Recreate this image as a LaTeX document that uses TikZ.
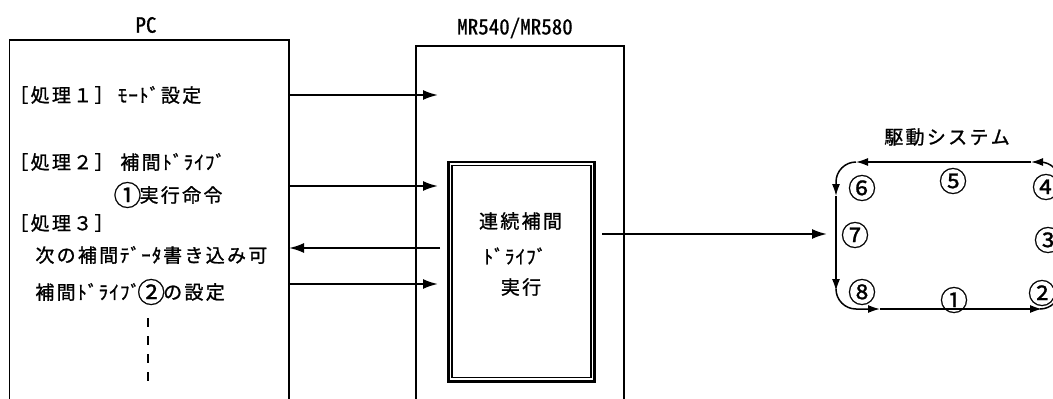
\documentclass[tikz,border=0pt]{standalone}
\usepackage{fontspec}
\setmainfont{Noto Sans CJK JP}
\newfontfamily\jpf[FakeBold=1.2]{Noto Sans CJK JP}
\newfontfamily\hwf[CharacterWidth=Half,FakeBold=0.8]{Noto Sans CJK JP}
\newfontfamily\numf[FakeBold=0.8]{Noto Sans CJK JP}
\usetikzlibrary{arrows.meta}
% monospaced cells in the manner of a Japanese gothic font
\newcommand\monoch[1]{\setbox0\hbox{#1}\ifdim\wd0<14pt\makebox[10.65pt][c]{#1}\else\makebox[21.3pt][c]{#1}\fi}
\def\monoend{\monoend}
\def\monoloop#1{\ifx#1\monoend\else\monoch{#1}\expandafter\monoloop\fi}
\newcommand\mono[1]{\monoloop#1\monoend}
\tikzset{
  box/.style={draw, line width=1.2pt, inner sep=0pt, outer sep=0pt, anchor=north west},
  txt/.style={inner sep=0pt, anchor=west, font=\jpf\fontsize{19}{23}\selectfont},
  ctxt/.style={inner sep=0pt, font=\jpf\fontsize{19}{23}\selectfont},
  lbl/.style={inner sep=0pt, font=\hwf\fontsize{21}{25}\selectfont},
  num/.style={inner sep=0pt, font=\numf\fontsize{28}{30}\selectfont},
  arr/.style={line width=2pt, -{Latex[length=15pt,width=10pt]}},
  loopl/.style={line width=1.5pt, -{Latex[length=12pt,width=8pt]}},
}
\begin{document}
\begin{tikzpicture}[x=1pt,y=-1pt]
\useasboundingbox (0,0) rectangle (1053,399);
\clip (0,0) rectangle (1053,399);
% main boxes
\node[box, minimum width=279.5pt, minimum height=380pt] (pc) at (9.5,40) {};
\node[box, minimum width=208pt, minimum height=380pt] (mr) at (416,46) {};
\node[lbl] (pcl) at (146,25) {PC};
\node[lbl] (mrl) at (515,28) {MR540/MR580};
% PC texts
\node[txt] (p1) at (8,95) {\mono{［処理１］}};
\node[txt] (p1b) at (117,95) {\mono{ﾓｰﾄﾞ設定}};
\node[txt] (p2) at (8,162) {\mono{［処理２］}};
\node[txt] (p2a) at (119,162) {\mono{補間ﾄﾞﾗｲﾌﾞ}};
\node[num] (p2n) at (127.5,195) {\makebox[21.3pt]{①}};
\node[txt] (p2b) at (138.2,195) {\mono{実行命令}};
\node[txt] (p3) at (8,223) {\mono{［処理３］}};
\node[txt] (p3a) at (34,255) {\mono{次の補間ﾃﾞｰﾀ書き込み可}};
\node[txt] (p3b) at (34,292) {\mono{補間ﾄﾞﾗｲﾌﾞ}};
\node[num] (p3n) at (151.2,292) {\makebox[21.3pt]{②}};
\node[txt] (p3c) at (161.8,292) {\mono{の設定}};
\coordinate (d1) at (148,318);
\coordinate (d2) at (148,383);
\draw[line width=2pt, dash pattern=on 9pt off 9pt] (d1) -- (d2);
% double box
\node[draw, line width=2.7pt, inner sep=0pt, minimum width=146.2pt, minimum height=219.3pt] (dbl) at (521.6,271.65) {};
\draw[line width=1.7pt] ([shift={(4.8pt,-4.9pt)}]dbl.north west) rectangle ([shift={(-4.9pt,5.3pt)}]dbl.south east);
\node[ctxt] (c1) at (520.5,221) {\mono{連続補間}};
\node[ctxt] (c2) at (515,256) {\mono{ﾄﾞﾗｲﾌﾞ}};
\node[ctxt] (c3) at (521,287) {\mono{実行}};
% arrows
\coordinate (e1) at (438,95);
\coordinate (e2) at (438,186);
\coordinate (s3) at (440,248);
\coordinate (e4) at (438,284);
\coordinate (e5) at (827,234);
\draw[arr] (pc.east |- e1) -- (e1);
\draw[arr] (pc.east |- e2) -- (e2);
\draw[arr] (s3) -- (pc.east |- s3);
\draw[arr] (pc.east |- e4) -- (e4);
\draw[arr, shorten <=6pt] (dbl.east |- e5) -- (e5);
% drive system
\node[ctxt] (ds) at (947,137) {\mono{駆動システム}};
\coordinate (tr1) at (1060,182);
\coordinate (tr2) at (1040,162);
\coordinate (ta) at (1031,162);
\coordinate (tl1) at (856,162);
\coordinate (tl2) at (836,182);
\coordinate (la) at (836,196);
\coordinate (lb) at (836,291);
\coordinate (bl1) at (836,289);
\coordinate (bl2) at (856,309);
\coordinate (ba) at (880,309);
\coordinate (bb) at (1042,309);
\coordinate (br1) at (1040,309);
\coordinate (br2) at (1060,289);
\draw[loopl] (tr1) .. controls (1060,171) and (1051,162) .. (tr2) -- (ta);
\draw[loopl] (ta) -- (tl1);
\draw[loopl] (tl1) .. controls (845,162) and (836,171) .. (tl2) -- (la);
\draw[loopl] (la) -- (lb);
\draw[loopl] (bl1) .. controls (836,300) and (845,309) .. (bl2) -- (ba);
\draw[loopl] (ba) -- (bb);
\draw[loopl] (br1) .. controls (1051,309) and (1060,300) .. (br2) -- (tr1);
\node[num] (n1) at (954,300) {①};
\node[num] (n2) at (1042,293) {②};
\node[num] (n3) at (1048,240) {③};
\node[num] (n4) at (1046,187) {④};
\node[num] (n5) at (953,181) {⑤};
\node[num] (n6) at (862,188) {⑥};
\node[num] (n7) at (855,235) {⑦};
\node[num] (n8) at (862,292) {⑧};
\end{tikzpicture}
\end{document}
